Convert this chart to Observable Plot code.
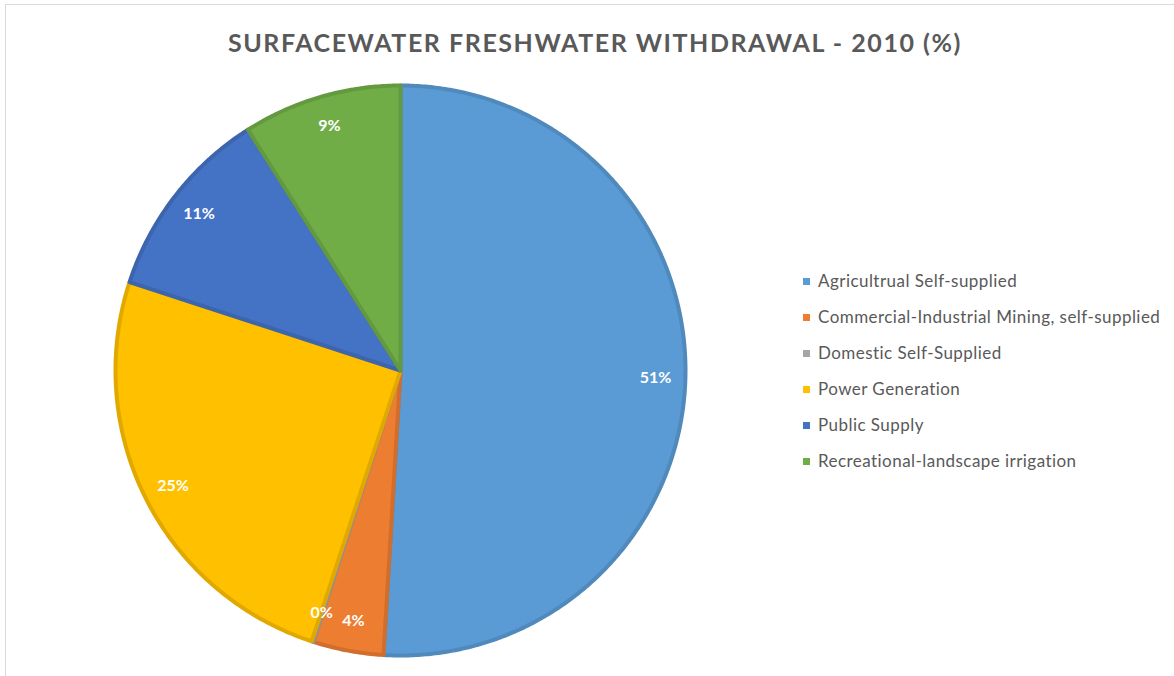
<!DOCTYPE html>
<html>
<head>
<meta charset="utf-8">
<script src="https://cdn.jsdelivr.net/npm/d3@7"></script>
<script src="https://cdn.jsdelivr.net/npm/@observablehq/plot@0.6"></script>
<style>
  html, body { margin: 0; padding: 0; background: #fff; overflow: hidden; }
  #frame { position: absolute; left: 5px; top: 4px; width: 1200px; height: 700px; border: 1.5px solid #d9d9d9; box-sizing: border-box; }
  #title { position: absolute; left: 0; width: 1190px; top: 27px; text-align: center; font-family: Lato, sans-serif; font-weight: bold; font-size: 25px; letter-spacing: 1.55px; color: #595959; }
  #chart { position: absolute; left: 100px; top: 70px; }
  #legend { position: absolute; left: 803px; top: 270px; font-family: Lato, sans-serif; font-size: 17px; letter-spacing: 0.45px; color: #595959; }
  .row { height: 36px; display: flex; align-items: flex-start; white-space: nowrap; line-height: 22px; }
  .sw { width: 7px; height: 7px; margin-right: 8px; margin-top: 8px; flex: none; }
</style>
</head>
<body>
<div id="frame"></div>
<div id="title">SURFACEWATER FRESHWATER WITHDRAWAL - 2010 (%)</div>
<div id="chart"></div>
<div id="legend"></div>
<script>
const categories = [
  "Agricultrual Self-supplied",
  "Commercial-Industrial Mining, self-supplied",
  "Domestic Self-Supplied",
  "Power Generation",
  "Public Supply",
  "Recreational-landscape irrigation"
];
const values = [51, 4, 0.1, 25, 11, 9];
const labels = ["51%", "4%", "0%", "25%", "11%", "9%"];
const colors = ["#5B9BD5", "#ED7D31", "#A5A5A5", "#FFC000", "#4472C4", "#70AD47"];

const arcs = d3.pie().sort(null).value(d => d.value)(
  categories.map((c, i) => ({category: c, value: values[i], label: labels[i], color: colors[i]}))
);

const strokeOf = c => d3.color(c).darker(0.35).formatHex();

const polyPts = [];
for (const a of arcs) {
  const n = Math.max(2, Math.ceil((a.endAngle - a.startAngle) / (Math.PI / 360)));
  polyPts.push({category: a.data.category, stroke: strokeOf(a.data.color), x: 0, y: 0});
  for (let k = 0; k <= n; k++) {
    const t = a.startAngle + (a.endAngle - a.startAngle) * k / n;
    polyPts.push({category: a.data.category, stroke: strokeOf(a.data.color), x: Math.sin(t), y: Math.cos(t)});
  }
}

const labelPts = arcs.map(a => {
  const m = (a.startAngle + a.endAngle) / 2;
  return {label: a.data.label, x: 0.895 * Math.sin(m), y: 0.895 * Math.cos(m)};
});

const plot = Plot.plot({
  width: 600,
  height: 600,
  margin: 15,
  x: {domain: [-1, 1], axis: null},
  y: {domain: [-1, 1], axis: null},
  color: {domain: categories, range: colors},
  style: {background: "transparent"},
  marks: [
    Plot.line(polyPts, {
      x: "x", y: "y", z: "category",
      fill: "category", stroke: "stroke",
      strokeWidth: 4, strokeLinejoin: "round",
      curve: "linear-closed"
    }),
    Plot.text(labelPts, {
      x: "x", y: "y", text: "label",
      fill: "white", fontWeight: "bold", fontSize: 16,
      fontFamily: "Lato, sans-serif"
    })
  ]
});
document.getElementById("chart").appendChild(plot);

const legend = document.getElementById("legend");
categories.forEach((c, i) => {
  const row = document.createElement("div");
  row.className = "row";
  const sw = document.createElement("span");
  sw.className = "sw";
  sw.style.background = colors[i];
  const tx = document.createElement("span");
  tx.textContent = c;
  row.appendChild(sw);
  row.appendChild(tx);
  legend.appendChild(row);
});
</script>
</body>
</html>
